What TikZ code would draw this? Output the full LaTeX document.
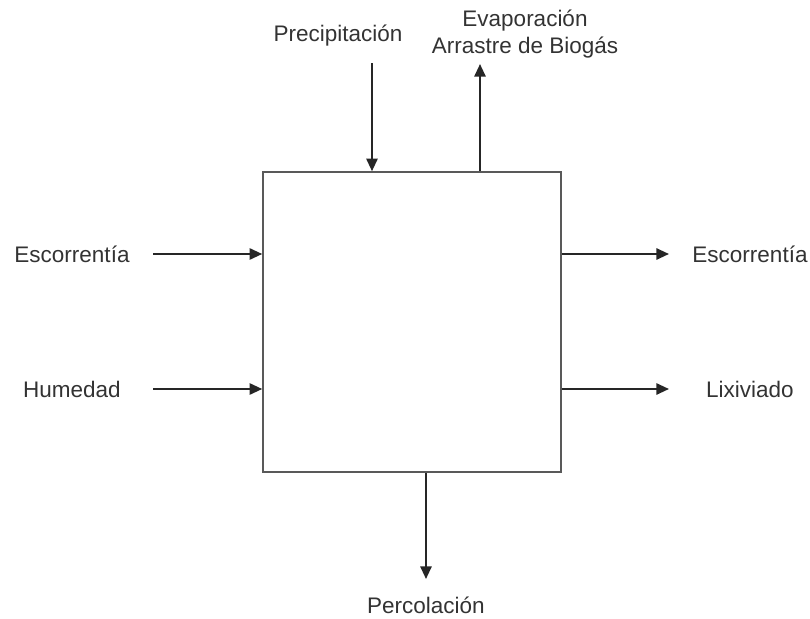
\documentclass[tikz,border=0pt]{standalone}
\usepackage{fontspec}
\setmainfont{Liberation Sans}
\usetikzlibrary{arrows.meta,positioning,calc}

\begin{document}
\begin{tikzpicture}[x=0.025cm,y=-0.025cm,
  lbl/.style={text=black!80,font=\fontsize{16}{19}\selectfont,inner sep=0pt,align=center},
  flujo/.style={draw=black!85,line width=1.5pt,-{Triangle[length=9pt,width=8pt]}},
  caja/.style={draw=black!65,line width=1.1pt,minimum width=298*0.025cm,minimum height=300*0.025cm,inner sep=0pt}]
  \useasboundingbox (0,0) rectangle (810,619);
  \node[caja] (box) at (412,322) {};

  \node[lbl] (escL) at (72,254) {Escorrentía};
  \node[lbl] (hum) at (72,389) {Humedad};
  \node[lbl] (escR) at (750,254) {Escorrentía};
  \node[lbl] (lix) at (750,389) {Lixiviado};
  \node[lbl] (prec) at (338,36) {Precipitación};
  \node[lbl] (evap) at (525,34) {Evaporación\\Arrastre de Biogás};
  \node[lbl] (perc) at (426,605) {Percolación};

  \coordinate (a1) at (153,254);
  \coordinate (a2) at (153,389);
  \coordinate (b1) at (669,254);
  \coordinate (b2) at (669,389);
  \coordinate (c1) at (372,63);
  \coordinate (c2) at (480,64);
  \coordinate (d1) at (426,579);

  \draw[flujo] (a1) -- (box.west |- a1);
  \draw[flujo] (a2) -- (box.west |- a2);
  \draw[flujo] (box.east |- b1) -- (b1);
  \draw[flujo] (box.east |- b2) -- (b2);
  \draw[flujo] (c1) -- (c1 |- box.north);
  \draw[flujo] (c2 |- box.north) -- (c2);
  \draw[flujo] (d1 |- box.south) -- (d1);
\end{tikzpicture}
\end{document}
